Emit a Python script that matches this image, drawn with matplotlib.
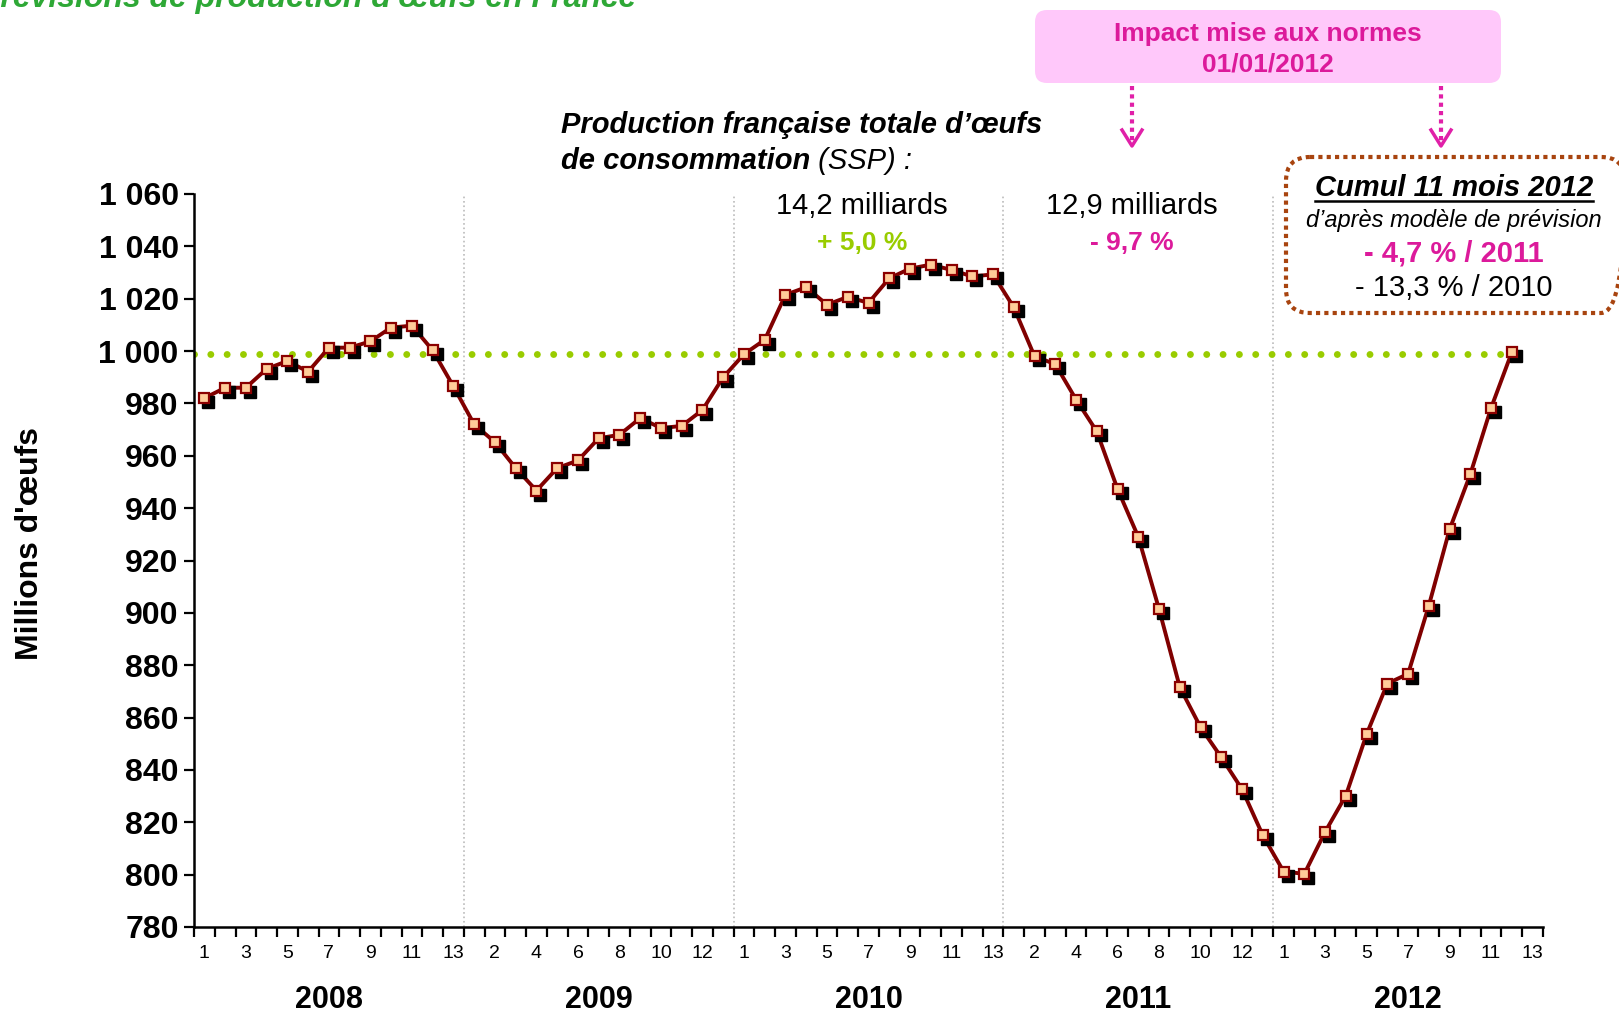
'''
Plot the French egg production chart (rolling 13-period totals, 2008-2012)
'''
import matplotlib
matplotlib.use('Agg')
import matplotlib.pyplot as plt
import matplotlib.transforms as mtransforms
from matplotlib.patches import FancyBboxPatch
from matplotlib.lines import Line2D
from matplotlib.ticker import FuncFormatter
import numpy as np

plt.rcParams['font.family'] = ['Liberation Sans', 'DejaVu Sans']

# Data (millions of eggs, 13 four-week periods per year)
years = ['2008', '2009', '2010', '2011', '2012']
periods_per_year = 13
prod_2008 = [982.0, 986.0, 986.0, 993.2, 996.2, 992.1, 1001.3, 1001.3, 1003.7, 1009.0, 1009.7, 1000.3, 986.5]
prod_2009 = [972.0, 965.2, 955.3, 946.7, 955.3, 958.2, 966.7, 968.0, 974.4, 970.6, 971.4, 977.5, 990.0]
prod_2010 = [998.8, 1004.3, 1021.5, 1024.4, 1017.7, 1020.7, 1018.4, 1027.8, 1031.5, 1033.0, 1031.0, 1028.5, 1029.3]
prod_2011 = [1016.7, 998.0, 995.0, 981.5, 969.3, 947.3, 929.0, 901.4, 871.6, 856.3, 844.8, 832.6, 815.0]
prod_2012 = [801.2, 800.3, 816.3, 830.2, 853.6, 873.0, 876.7, 902.8, 931.9, 953.0, 978.3, 999.6]
reference_level = 999.0
y_ticks = list(range(780, 1061, 20))

W, H, DPI = 1619, 1013, 100
MAGENTA = '#DC1A9B'
GREEN = '#99CC00'


def plot_production():
    '''
    Build the figure and save it as out.png
    '''
    production = prod_2008 + prod_2009 + prod_2010 + prod_2011 + prod_2012
    n_cat = len(years) * periods_per_year
    x = np.arange(len(production)) + 0.5

    fig = plt.figure(figsize=(W / DPI, H / DPI), dpi=DPI)
    ax = fig.add_axes([194 / W, 1 - 927 / H, (1543 - 194) / W, (927 - 194) / H])

    # image pixel coordinates (origin top-left) for the annotations
    img = mtransforms.Affine2D().scale(1, -1).translate(0, H).scale(1 / DPI) + fig.dpi_scale_trans

    # year separators
    for k in range(1, len(years)):
        ax.axvline(k * periods_per_year, color='#BBBBBB', ls=':', lw=1.2, zorder=1)

    # reference level
    ax.plot([0, x[-1]], [reference_level, reference_level], color=GREEN, lw=5,
            ls=(0, (0.001, 2.35)), dash_capstyle='round', zorder=2)

    # series with shadowed square markers
    ax.plot(x, production, color='#800000', lw=2.8, zorder=3)
    shadow = mtransforms.offset_copy(ax.transData, fig=fig, x=4, y=-4, units='dots')
    ax.plot(x, production, ls='none', marker='s', ms=8.2, mfc='black', mec='black',
            transform=shadow, zorder=4)
    ax.plot(x, production, ls='none', marker='s', ms=7.4, mfc='#FFCC99', mec='#8B0000',
            mew=1.6, zorder=5)

    # axes
    ax.set_xlim(0, n_cat)
    ax.set_ylim(y_ticks[0], y_ticks[-1])
    for side in ('top', 'right'):
        ax.spines[side].set_visible(False)
    for side in ('left', 'bottom'):
        ax.spines[side].set_linewidth(1.8)

    ax.set_yticks(y_ticks)
    ax.yaxis.set_major_formatter(FuncFormatter(lambda v, _: f'{v:,.0f}'.replace(',', ' ')))
    ax.tick_params(axis='y', length=7, width=1.6, pad=4, labelsize=23)
    for lab in ax.get_yticklabels():
        lab.set_fontweight('bold')

    ax.set_xticks(np.arange(n_cat + 1))
    ax.set_xticklabels([])
    ax.tick_params(axis='x', which='major', length=7, width=1.6)
    label_pos = np.arange(0, n_cat, 2)
    ax.set_xticks(label_pos + 0.5, minor=True)
    ax.set_xticklabels([str(i % periods_per_year + 1) for i in label_pos], minor=True)
    ax.tick_params(axis='x', which='minor', length=0, pad=13, labelsize=14)

    year_trans = mtransforms.blended_transform_factory(ax.transData, ax.transAxes)
    for k, year in enumerate(years):
        ax.text((k + 0.5) * periods_per_year, -0.1, year, transform=year_trans,
                ha='center', va='center', fontsize=22, fontweight='bold')

    fig.text(30, 544, "Millions d'œufs", transform=img, rotation=90, ha='center',
             va='center', fontsize=23, fontweight='bold')

    # cropped slide title
    fig.text(-21, 7, "Prévisions de production d'œufs en France", transform=img,
             ha='left', va='baseline', fontsize=23, fontweight='bold', style='italic',
             color='#2EA836')

    # series caption
    fig.text(561, 125, "Production française totale d’œufs", transform=img, ha='left',
             va='center', fontsize=21, fontweight='bold', style='italic')
    t1 = fig.text(561, 161, 'de consommation', transform=img, ha='left', va='center',
                  fontsize=21, fontweight='bold', style='italic')
    fig.add_artist(plt.Annotation(' (SSP) :', xy=(1, 0.5), xycoords=t1, va='center',
                                  ha='left', fontsize=21, style='italic'))

    # yearly totals
    fig.text(862, 206, '14,2 milliards', transform=img, ha='center', va='center', fontsize=21)
    fig.text(862, 243, '+ 5,0 %', transform=img, ha='center', va='center', fontsize=19,
             fontweight='bold', color=GREEN)
    fig.text(1132, 206, '12,9 milliards', transform=img, ha='center', va='center', fontsize=21)
    fig.text(1132, 243, '- 9,7 %', transform=img, ha='center', va='center', fontsize=19,
             fontweight='bold', color=MAGENTA)

    # pink callout with two arrows
    fig.add_artist(FancyBboxPatch((1035, 10), 466, 73, boxstyle='round,pad=0,rounding_size=12',
                                  transform=img, fc='#FFC8FA', ec='none'))
    fig.text(1268, 34, 'Impact mise aux normes', transform=img, ha='center', va='center',
             fontsize=19, fontweight='bold', color=MAGENTA)
    fig.text(1268, 65, '01/01/2012', transform=img, ha='center', va='center',
             fontsize=19, fontweight='bold', color=MAGENTA)
    for ax_x in (1132, 1441):
        fig.add_artist(Line2D([ax_x, ax_x], [86, 142], transform=img, color='#E020A8',
                              lw=3, ls=(0, (1, 1))))
        fig.add_artist(Line2D([ax_x - 10, ax_x, ax_x + 10], [130, 146, 130], transform=img,
                              color='#E020A8', lw=2.5))

    # cumulative box (runs off the right edge)
    fig.add_artist(FancyBboxPatch((1286, 157), 339, 156, boxstyle='round,pad=0,rounding_size=24',
                                  transform=img, fc='none', ec='#A8440F', lw=3,
                                  ls=(0, (1, 1)), clip_on=False))
    cumul = fig.text(1454, 188, 'Cumul 11 mois 2012', transform=img, ha='center', va='center',
                     fontsize=21, fontweight='bold', style='italic')
    fig.text(1454, 221, 'd’après modèle de prévision', transform=img, ha='center',
             va='center', fontsize=17, style='italic')
    fig.text(1454, 253, '- 4,7 % / 2011', transform=img, ha='center', va='center',
             fontsize=21, fontweight='bold', color=MAGENTA)
    fig.text(1454, 288, '- 13,3 % / 2010', transform=img, ha='center', va='center',
             fontsize=21)

    # underline the box title
    renderer = fig.canvas.get_renderer()
    bb = cumul.get_window_extent(renderer)
    fig.add_artist(Line2D([bb.x0, bb.x1], [bb.y0 + 1, bb.y0 + 1], transform=None,
                          color='black', lw=1.8))

    fig.savefig('out.png', dpi=DPI)


if __name__ == '__main__':
    plot_production()
